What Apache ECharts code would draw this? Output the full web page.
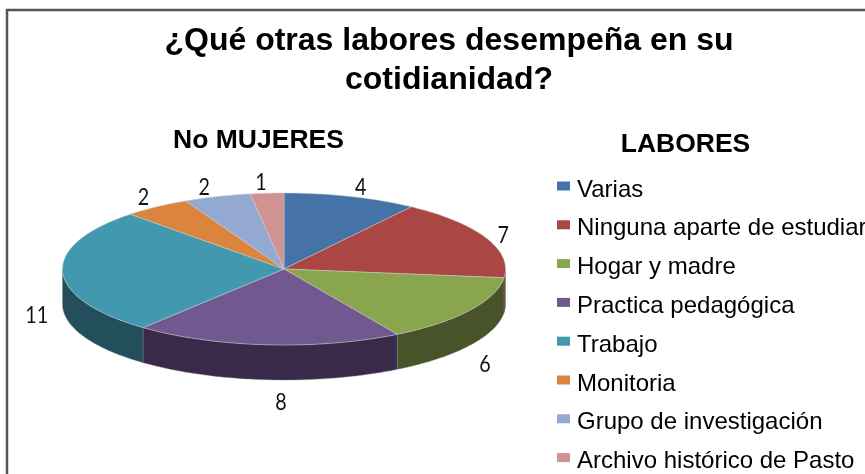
<!DOCTYPE html>
<html><head><meta charset="utf-8">
<style>html,body{margin:0;padding:0;background:#fff}#c{width:865px;height:474px}</style>
<script src="https://cdn.jsdelivr.net/npm/echarts@6/dist/echarts.min.js"></script>
</head><body><div id="c"></div>
<script>
const categories = ['Varias','Ninguna aparte de estudiar','Hogar y madre','Practica pedagógica','Trabajo','Monitoria','Grupo de investigación','Archivo histórico de Pasto'];
const values = [4,7,6,8,11,2,2,1];
const topColors = ['#4572A7','#AA4643','#89A54E','#71588F','#4198AF','#DB843D','#93A9CF','#D19392'];
const wallColors = ['#2A4565','#6B2A28','#49532A','#3A2A4A','#234E5B','#8A5226','#5A6880','#805A5A'];
const labelNudge = [[10,-9],[17,-3],[15,54],[14,57],[-26,43],[-13,-10],[-13,-9],[-6,-11]];

const CX = 284, CY = 269, RX = 221.5, RY = 76, DEPTH = 35;
const total = values.reduce((a, b) => a + b, 0);
const rim = (deg, drop) => {
  const r = deg * Math.PI / 180;
  return [CX + RX * Math.sin(r), CY - RY * Math.cos(r) + (drop || 0)];
};
function arcPts(a0, a1, drop) {
  const pts = [], n = Math.max(2, Math.ceil(Math.abs(a1 - a0)));
  for (let i = 0; i <= n; i++) pts.push(rim(a0 + (a1 - a0) * i / n, drop));
  return pts;
}
function renderSlice(params, api) {
  const i = params.dataIndex;
  let before = 0;
  for (let k = 0; k < i; k++) before += values[k];
  const v = api.value(0);
  const a0 = before / total * 360, a1 = (before + v) / total * 360;
  const children = [];
  const w0 = Math.max(a0, 90), w1 = Math.min(a1, 270);
  if (w1 > w0) {
    children.push({
      type: 'polygon', z2: 1,
      shape: { points: arcPts(w0, w1, 0).concat(arcPts(w1, w0, DEPTH)) },
      style: { fill: wallColors[i], stroke: '#7d7d7d', lineWidth: 0.4 }
    });
  }
  children.push({
    type: 'polygon', z2: 2,
    shape: { points: [[CX, CY]].concat(arcPts(a0, a1, 0)) },
    style: { fill: topColors[i], stroke: '#c8ccd4', lineWidth: 0.5 }
  });
  const p = rim((a0 + a1) / 2, 0);
  children.push({
    type: 'text', z2: 3, scaleX: 0.82,
    x: p[0] + labelNudge[i][0], y: p[1] + labelNudge[i][1],
    style: { text: String(v), fill: '#111', font: '24px Lato', align: 'center', verticalAlign: 'middle' }
  });
  return { type: 'group', children };
}
const chart = echarts.init(document.getElementById('c'), null, { renderer: 'canvas' });
chart.setOption({
  animation: false,
  color: topColors,
  title: [
    { text: '¿Qué otras labores desempeña en su\ncotidianidad?', left: 444, top: 17, textAlign: 'center',
      textStyle: { fontFamily: 'Liberation Sans', fontWeight: 'bold', fontSize: 32, lineHeight: 39, color: '#000' } },
    { text: 'No MUJERES', left: 253.5, top: 122, textAlign: 'center',
      textStyle: { fontFamily: 'Liberation Sans', fontWeight: 'bold', fontSize: 26.5, color: '#000' } },
    { text: 'LABORES', left: 680.5, top: 126, textAlign: 'center',
      textStyle: { fontFamily: 'Liberation Sans', fontWeight: 'bold', fontSize: 26.5, color: '#000' } }
  ],
  legend: {
    orient: 'vertical', left: 557, top: 170, padding: 0, data: categories, icon: 'rect',
    itemWidth: 13, itemHeight: 9, itemGap: 6.8, selectedMode: false,
    formatter: name => '{a|' + name + '}',
    textStyle: { rich: { a: { fontFamily: 'Liberation Sans', fontSize: 24, color: '#000', lineHeight: 20, padding: [8, 0, 0, 2] } } }
  },
  graphic: [{
    type: 'polyline', silent: true,
    shape: { points: [[7, 474], [7, 10], [865, 10]] },
    style: { stroke: '#555', lineWidth: 2.5, fill: null }
  }],
  series: [
    { type: 'pie', radius: [0, 0], center: [CX, CY], silent: true, label: { show: false }, labelLine: { show: false },
      data: categories.map((name, i) => ({ name, value: values[i] })) },
    { type: 'custom', coordinateSystem: 'none', renderItem: renderSlice, silent: true,
      data: categories.map((name, i) => ({ name, value: [values[i]] })) }
  ]
});
</script></body></html>
